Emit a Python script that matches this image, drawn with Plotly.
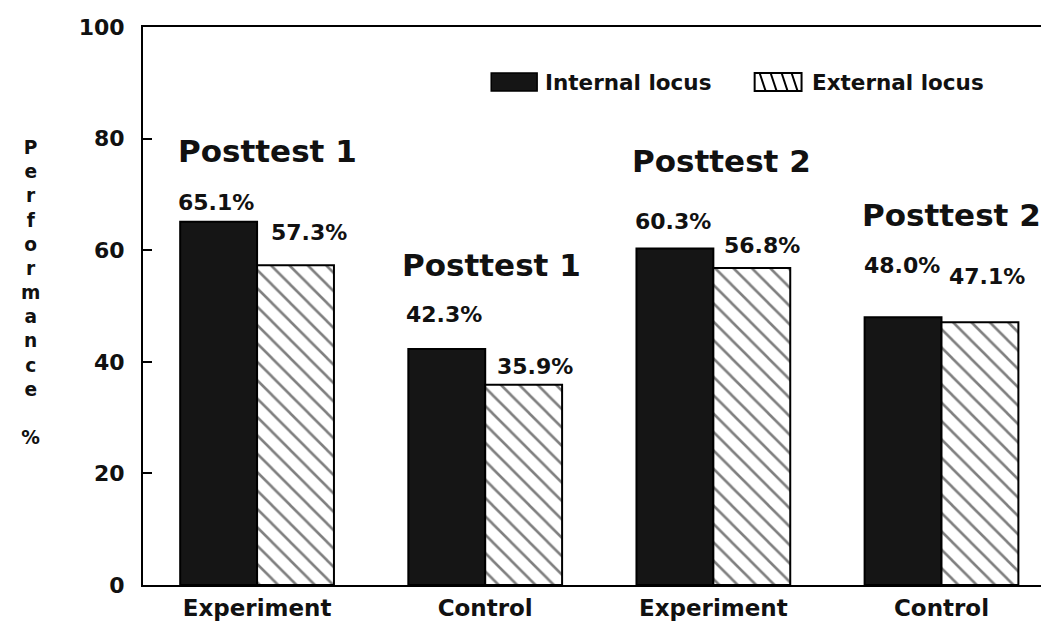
import plotly.graph_objects as go

# ---- data ----
groups = ["Experiment", "Control", "Experiment", "Control"]
tests = ["Posttest 1", "Posttest 1", "Posttest 2", "Posttest 2"]
internal = [65.1, 42.3, 60.3, 48.0]
external = [57.3, 35.9, 56.8, 47.1]
series_names = ["Internal locus", "External locus"]
y_ticks = [0, 20, 40, 60, 80, 100]
y_title = "Performance"

# ---- layout helpers (positions / styles) ----
FONT = "DejaVu Sans"
INK = "#111111"
x = list(range(len(groups)))
int_dx = [-0.18, -0.18, -0.175, -0.175]
int_dy = [3.5, 6.1, 4.8, 9.2]
ext_dx = [0.228, 0.22, 0.214, 0.2]
ext_dy = [5.8, 3.3, 4.1, 8.1]
title_dx = [0.044, 0.026, 0.035, 0.044]
title_dy = [12.7, 15.0, 15.6, 18.3]

L, R, T, B = 135, 4, 19, 48
W, H = 1049, 625
PW, PH = W - L - R, H - T - B


def px(xp):
    return (xp - L) / PW


def py(yp):
    return (H - B - yp) / PH


fig = go.Figure()
fig.add_bar(
    x=x, y=internal, name=series_names[0], showlegend=False,
    marker=dict(color="#151515", line=dict(color="black", width=2)),
)
fig.add_bar(
    x=x, y=external, name=series_names[1], showlegend=False,
    marker=dict(
        color="white", line=dict(color="black", width=2),
        pattern=dict(shape="\\", fgcolor="black", bgcolor="white", size=13, solidity=0.2),
    ),
)

ann = []
for i in x:
    ann.append(dict(x=i + int_dx[i], y=internal[i] + int_dy[i], xref="x", yref="y",
                    text=f"{internal[i]:.1f}%", showarrow=False, yanchor="middle",
                    font=dict(family=FONT, size=22, color=INK, weight="bold")))
    ann.append(dict(x=i + ext_dx[i], y=external[i] + ext_dy[i], xref="x", yref="y",
                    text=f"{external[i]:.1f}%", showarrow=False, yanchor="middle",
                    font=dict(family=FONT, size=22, color=INK, weight="bold")))
    top = max(internal[i], external[i])
    ann.append(dict(x=i + title_dx[i], y=top + title_dy[i], xref="x", yref="y",
                    text=tests[i], showarrow=False, yanchor="middle",
                    font=dict(family=FONT, size=31, color=INK, weight="bold")))

# vertical stacked y-axis title
ann.append(dict(x=px(22), y=py(284), xref="paper", yref="paper",
                text="<br>".join(list(y_title)) + "<br><br>%", showarrow=False,
                xanchor="center", yanchor="middle", align="center",
                font=dict(family=FONT, size=18.6, color=INK, weight="bold")))

# legend (manual)
LEG_Y = 74
ann.append(dict(x=px(536), y=py(LEG_Y), xref="paper", yref="paper",
                xanchor="left", yanchor="middle",
                text=series_names[0], showarrow=False,
                font=dict(family=FONT, size=21.5, color=INK, weight="bold")))
ann.append(dict(x=px(803), y=py(LEG_Y), xref="paper", yref="paper",
                xanchor="left", yanchor="middle",
                text=series_names[1], showarrow=False,
                font=dict(family=FONT, size=21.5, color=INK, weight="bold")))

shapes = [
    dict(type="rect", xref="paper", yref="paper", x0=px(484), x1=px(530),
         y0=py(LEG_Y + 9), y1=py(LEG_Y - 9),
         fillcolor="#151515", line=dict(color="black", width=1.5)),
    dict(type="rect", xref="paper", yref="paper", x0=px(748), x1=px(795),
         y0=py(LEG_Y + 9), y1=py(LEG_Y - 9),
         fillcolor="white", line=dict(color="black", width=2)),
]
for xs in [753, 764, 775, 785]:
    shapes.append(dict(type="line", xref="paper", yref="paper",
                       x0=px(xs), y0=py(LEG_Y - 9), x1=px(xs + 6), y1=py(LEG_Y + 9),
                       line=dict(color="black", width=2)))

fig.update_layout(
    width=W, height=H, autosize=False,
    margin=dict(l=L, r=R, t=T, b=B),
    paper_bgcolor="white", plot_bgcolor="white",
    barmode="group", bargap=0.326, bargroupgap=0,
    annotations=ann, shapes=shapes,
    font=dict(family=FONT, color=INK),
)
fig.update_xaxes(
    range=[-0.5, 3.48], tickvals=x, ticktext=groups, ticks="",
    showline=True, linecolor="black", linewidth=2, mirror=True, showgrid=False, zeroline=False,
    ticklabelstandoff=1,
    tickfont=dict(family=FONT, size=23, color=INK, weight="bold"),
)
fig.update_yaxes(
    range=[0, 100], tickvals=y_ticks, ticks="inside", ticklen=9, tickwidth=2, tickcolor="black",
    showline=True, linecolor="black", linewidth=2, mirror=True, showgrid=False, zeroline=False,
    ticklabelstandoff=12,
    tickfont=dict(family=FONT, size=22, color=INK, weight="bold"),
)

fig.write_html("out.html")
